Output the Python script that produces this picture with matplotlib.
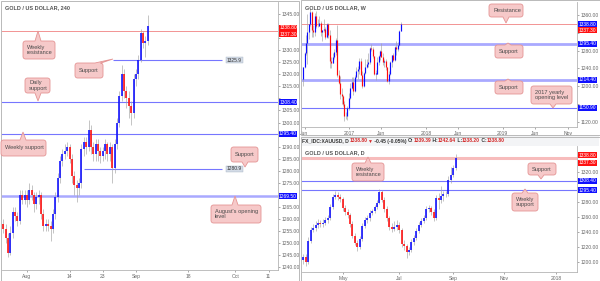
import matplotlib
matplotlib.use('Agg')
import matplotlib.pyplot as plt
from matplotlib.patches import Rectangle, Polygon
import numpy as np

plt.rcParams['font.family'] = ['Liberation Sans', 'DejaVu Sans']

# ------------------------------------------------------------------ data
# 4H panel (each candle = half a trading day)
h4_ticklabels = ['Aug', '14', '23', 'Sep', '18', 'Oct', '11']
h4_open0 = 1258
h4_close = [1256, 1252, 1246, 1254, 1263, 1261, 1259, 1270, 1268, 1270,
            1268, 1272, 1270, 1266, 1269, 1270, 1262, 1257, 1258, 1257,
            1256, 1262, 1269, 1277, 1284, 1287, 1288, 1290, 1285, 1278,
            1274, 1273, 1275, 1289, 1292, 1290, 1297, 1290, 1287, 1291,
            1288, 1286, 1288, 1291, 1287, 1290, 1281, 1291, 1300, 1311,
            1320, 1313, 1310, 1307, 1304, 1318, 1320, 1326, 1337, 1333,
            1334, 1340]
h4_high = [1260, 1258, 1254, 1257, 1265, 1265, 1263, 1272, 1272, 1272,
           1272, 1275, 1274, 1271, 1271, 1272, 1271, 1264, 1260, 1260,
           1259, 1264, 1271, 1279, 1286, 1289, 1291, 1292, 1291, 1287,
           1280, 1276, 1277, 1291, 1294, 1294, 1301, 1299, 1292, 1293,
           1293, 1290, 1290, 1293, 1292, 1292, 1291, 1293, 1302, 1313,
           1324, 1322, 1315, 1313, 1309, 1320, 1322, 1328, 1339, 1338,
           1336, 1344.6]
h4_low = [1254, 1250, 1244, 1245, 1252, 1259, 1257, 1258, 1266, 1266,
          1265, 1266, 1268, 1263, 1264, 1266, 1260, 1255, 1255, 1255,
          1251, 1254, 1260, 1267, 1275, 1282, 1285, 1286, 1283, 1275,
          1270, 1267, 1270, 1273, 1286, 1287, 1288, 1287, 1284, 1284,
          1284, 1283, 1284, 1285, 1284, 1284, 1275, 1279, 1289, 1298,
          1309, 1310, 1306, 1302, 1299, 1302, 1315, 1318, 1325, 1331,
          1327, 1332]
h4_yticks = list(range(1240, 1350, 5))

# Weekly panel
wk_ticklabels = ['Jun', '2017', 'Jun', '2018', 'Jun', '2019', 'Jun', 'Nov']
wk_open0 = 1216
wk_close = [1243, 1275, 1298, 1322, 1339, 1366, 1327, 1322, 1357, 1335,
            1336, 1341, 1321, 1326, 1328, 1310, 1339, 1315, 1257, 1251,
            1266, 1276, 1304, 1224, 1206, 1183, 1177, 1160, 1133, 1133,
            1151, 1173, 1196, 1209, 1190, 1220, 1234, 1239, 1256, 1226,
            1201, 1229, 1244, 1249, 1254, 1285, 1284, 1268, 1228, 1228,
            1254, 1267, 1279, 1266, 1254, 1256, 1242, 1212, 1228, 1255,
            1269, 1258, 1288, 1284, 1292, 1325, 1339]
wk_high = [1244, 1277, 1315, 1362, 1340, 1375, 1368, 1338, 1365, 1368,
           1352, 1358, 1346, 1327, 1352, 1333, 1343, 1341, 1326, 1265,
           1274, 1284, 1308, 1338, 1237, 1222, 1195, 1180, 1167, 1141,
           1155, 1184, 1207, 1220, 1220, 1226, 1244, 1245, 1264, 1263,
           1234, 1231, 1260, 1260, 1274, 1289, 1295, 1288, 1268, 1236,
           1265, 1270, 1281, 1296, 1275, 1260, 1260, 1242, 1233, 1257,
           1271, 1274, 1291, 1301, 1300, 1326, 1344]
wk_low = [1200, 1240, 1270, 1250, 1307, 1336, 1310, 1310, 1312, 1331,
          1332, 1335, 1312, 1301, 1322, 1305, 1308, 1308, 1241, 1241,
          1251, 1260, 1271, 1220, 1204, 1171, 1160, 1156, 1122, 1125,
          1123, 1147, 1172, 1193, 1180, 1186, 1218, 1216, 1227, 1224,
          1195, 1198, 1228, 1241, 1244, 1250, 1278, 1263, 1226, 1214,
          1228, 1247, 1259, 1266, 1248, 1242, 1236, 1210, 1205, 1225,
          1242, 1257, 1256, 1270, 1280, 1291, 1324]
wk_yticks = list(range(1120, 1400, 40))

# Daily panel (each candle = two trading days)
d_ticklabels = ['May', 'Jul', 'Sep', 'Nov', '2018']
d_open0 = 1203
d_close = [1207, 1200, 1228, 1243, 1245, 1249, 1252, 1250, 1252, 1256,
           1258, 1273, 1287, 1289, 1287, 1284, 1272, 1266, 1262, 1250,
           1235, 1225, 1220, 1230, 1248, 1256, 1258, 1265, 1268, 1273,
           1279, 1293, 1283, 1270, 1258, 1247, 1244, 1246, 1249, 1242,
           1224, 1221, 1213, 1216, 1226, 1232, 1241, 1249, 1255, 1259,
           1270, 1272, 1266, 1258, 1285, 1282, 1288, 1291, 1290, 1309,
           1316, 1325, 1339]
d_high = [1211, 1210, 1233, 1247, 1250, 1254, 1257, 1256, 1257, 1260,
          1262, 1277, 1290, 1295, 1293, 1291, 1287, 1276, 1270, 1265,
          1254, 1238, 1229, 1234, 1252, 1260, 1263, 1269, 1271, 1276,
          1283, 1297, 1296, 1286, 1274, 1261, 1252, 1254, 1256, 1253,
          1245, 1229, 1224, 1220, 1230, 1236, 1245, 1253, 1258, 1263,
          1274, 1276, 1275, 1270, 1289, 1292, 1301, 1295, 1295, 1314,
          1326, 1329, 1343]
d_low = [1198, 1195, 1198, 1225, 1240, 1241, 1245, 1246, 1246, 1249,
         1252, 1256, 1271, 1284, 1283, 1280, 1268, 1262, 1259, 1247,
         1232, 1222, 1214, 1217, 1228, 1245, 1252, 1255, 1262, 1265,
         1270, 1277, 1280, 1266, 1254, 1243, 1240, 1241, 1242, 1238,
         1220, 1216, 1205, 1209, 1213, 1223, 1229, 1238, 1246, 1252,
         1256, 1266, 1262, 1254, 1256, 1270, 1279, 1281, 1287, 1288,
         1305, 1313, 1323]
d_yticks = list(range(1200, 1360, 20))

header_parts = [('FX_IDC:XAUUSD, D ', '#333333'), ('1338.80', '#d42a2a'),
                ('\u25bc', '#d42a2a'), (' -0.45 (-0.05%) ', '#333333'),
                ('O:', '#333333'), ('1339.39', '#d42a2a'), (' H:', '#333333'),
                ('1342.64', '#d42a2a'), (' L:', '#333333'), ('1338.20', '#d42a2a'),
                (' C:', '#333333'), ('1338.80', '#d42a2a')]

# ------------------------------------------------------------------ figure
W, H = 600, 281
fig = plt.figure(figsize=(6, 2.81), dpi=100)
fig.patch.set_facecolor('white')

UP, DOWN, WICK = '#0b0bff', '#ff0b0b', '#a3a3a3'
BLUE_LINE, LIGHT_BLUE, RED_LINE = '#7676ff', '#a9a9ff', '#f29393'
CALL_FC, CALL_EC, CALL_TXT = '#f6c9c9', '#e49494', '#4a4a4a'

badge_pos = {}


def fx(x):
    return x / W


def fy(y):
    return 1 - y / H


def add_ax(x0, y0, x1, y1):
    return fig.add_axes([fx(x0), fy(y1), (x1 - x0) / W, (y1 - y0) / H])


def opens(o0, closes):
    return [o0] + list(closes[:-1])


def candles(ax, o, h, l, c, body_lw, wick_lw, mind):
    o, h, l, c = map(np.asarray, (o, h, l, c))
    x = np.arange(len(c))
    up = c >= o
    ax.vlines(x, l, h, color=WICK, lw=wick_lw, zorder=2)
    lo = np.minimum(o, c)
    hi = np.maximum(o, c)
    hi = np.where(hi - lo < mind, lo + mind, hi)
    ax.vlines(x[up], lo[up], hi[up], color=UP, lw=body_lw, zorder=3)
    ax.vlines(x[~up], lo[~up], hi[~up], color=DOWN, lw=body_lw, zorder=3)


def style_ax(ax, xlim, ylim, xticks, xlabels, yticks):
    ax.set_xlim(*xlim)
    ax.set_ylim(*ylim)
    ax.set_xticks(xticks)
    ax.set_xticklabels(xlabels)
    ax.set_yticks(yticks)
    ax.yaxis.tick_right()
    ax.tick_params(axis='both', labelsize=3.6, colors='#666666', length=1.6,
                   width=0.4, pad=1.0)
    for s in ['top', 'left']:
        ax.spines[s].set_visible(False)
    for s in ['right', 'bottom']:
        ax.spines[s].set_color('#b4b4b4')
        ax.spines[s].set_linewidth(0.6)


def py(ax, v):
    return H - ax.transData.transform((0, v))[1]


def badge(ax, v, text, fc, x0, x1, dy=0.0):
    y = py(ax, v) + dy
    badge_pos.setdefault(id(ax), []).append(y)
    fig.add_artist(Rectangle((fx(x0), fy(y + 3)), (x1 - x0) / W, 6 / H,
                             transform=fig.transFigure, fc=fc, ec='none', zorder=10))
    fig.text(fx((x0 + x1) / 2), fy(y), text, color='white', fontsize=3.5,
             ha='center', va='center', zorder=11)


def finish_yticks(ax, yticks):
    bys = badge_pos.get(id(ax), [])
    labels = []
    for t in yticks:
        yt = py(ax, t)
        near = any(abs(yt - b) < 5.8 for b in bys)
        labels.append('' if near else f'{t:.2f}')
    ax.set_yticklabels(labels)


def level_tag(ax, v, text, x0, x1):
    y = py(ax, v)
    fig.add_artist(Rectangle((fx(x0), fy(y + 3)), (x1 - x0) / W, 6 / H,
                             transform=fig.transFigure, fc='#d3dbe6', ec='#a7b3c4',
                             lw=0.3, zorder=10))
    fig.text(fx((x0 + x1) / 2), fy(y), text, color='#333333', fontsize=3.5,
             ha='center', va='center', zorder=11)


def callout(x0, y0, x1, y1, text, side, b0, b1, tip, r=2.5):
    pts = []

    def arc(cx, cy, a0, a1):
        for a in np.linspace(np.radians(a0), np.radians(a1), 6):
            pts.append((cx + r * np.cos(a), cy + r * np.sin(a)))

    pts.append((x0 + r, y0))
    if side == 'top':
        pts += [(b0, y0), tip, (b1, y0)]
    arc(x1 - r, y0 + r, -90, 0)
    if side == 'right':
        pts += [(x1, b0), tip, (x1, b1)]
    arc(x1 - r, y1 - r, 0, 90)
    if side == 'bottom':
        pts += [(b1, y1), tip, (b0, y1)]
    arc(x0 + r, y1 - r, 90, 180)
    arc(x0 + r, y0 + r, 180, 270)
    fpts = [(fx(a), fy(b)) for a, b in pts]
    fig.add_artist(Polygon(fpts, closed=True, transform=fig.transFigure,
                           fc=CALL_FC, ec=CALL_EC, lw=0.6, zorder=8))
    fig.text(fx(x0 + 4), fy((y0 + y1) / 2), text, color=CALL_TXT, fontsize=4.1,
             ha='left', va='center', linespacing=1.05, zorder=9)


# panel borders
for (a, b, c, d) in [(0.5, 0.5, 298.5, 280.5), (300.5, 0.5, 599.5, 135.5),
                     (300.5, 136.5, 599.5, 280.5)]:
    fig.add_artist(Rectangle((fx(a), fy(d)), (c - a) / W, (d - b) / H,
                             transform=fig.transFigure, fc='none', ec='#b9b9b9',
                             lw=0.7, zorder=1))

# ------------------------------------------------------------------ 4H panel
axA = add_ax(2, 2, 278, 270)
candles(axA, opens(h4_open0, h4_close), h4_high, h4_low, h4_close, 1.15, 0.45, 0.4)
style_ax(axA, (-0.5, -0.5 + 276 / 2.37), (1238.8, 1350.0),
         [10, 28, 42, 56, 78, 98, 112], h4_ticklabels, h4_yticks)
axA.axhline(1338.0, color=RED_LINE, lw=0.7, zorder=1)
axA.axhline(1308.4, color=BLUE_LINE, lw=0.8, zorder=1)
axA.axhline(1295.4, color=BLUE_LINE, lw=0.8, zorder=1)
axA.axhline(1269.5, color=LIGHT_BLUE, lw=1.8, zorder=1)
axA.hlines(1325.9, 46.3, 92.3, color=BLUE_LINE, lw=0.8, zorder=1)
axA.hlines(1280.9, 34.1, 92.3, color=BLUE_LINE, lw=0.8, zorder=1)
fig.text(fx(5), fy(8), 'GOLD / US DOLLAR, 240', fontsize=4.0, color='#555555',
         weight='bold', ha='left', va='center')

# ------------------------------------------------------------------ weekly panel
axB = add_ax(302, 2, 577, 127)
candles(axB, opens(wk_open0, wk_close), wk_high, wk_low, wk_close, 0.85, 0.45, 0.8)
style_ax(axB, (-0.7, -0.7 + 275 / 1.48), (1108.1, 1389.2),
         [1, 31, 53, 83, 105, 135, 157, 179], wk_ticklabels, wk_yticks)
axB.axhline(1338.8, color=RED_LINE, lw=0.7, zorder=1)
axB.axhline(1295.4, color=LIGHT_BLUE, lw=2.0, zorder=1)
axB.axhline(1214.4, color=LIGHT_BLUE, lw=2.0, zorder=1)
axB.axhline(1150.9, color=BLUE_LINE, lw=0.8, zorder=1)
fig.text(fx(305), fy(7.5), 'GOLD / US DOLLAR, W', fontsize=4.0, color='#555555',
         weight='bold', ha='left', va='center')

# ------------------------------------------------------------------ daily panel
axC = add_ax(302, 146, 577, 272)
candles(axC, opens(d_open0, d_close), d_high, d_low, d_close, 1.15, 0.45, 0.6)
style_ax(axC, (-0.5, -0.5 + 275 / 2.46), (1186.7, 1354.3),
         [16.2, 38.9, 60.9, 81.6, 102.8], d_ticklabels, d_yticks)
axC.axhline(1338.0, color='#f7bcbc', lw=2.2, zorder=1)
axC.axhline(1308.4, color=BLUE_LINE, lw=0.8, zorder=1)
axC.axhline(1295.4, color=BLUE_LINE, lw=0.8, zorder=1)
fig.text(fx(305), fy(153), 'GOLD / US DOLLAR, D', fontsize=4.0, color='#555555',
         weight='bold', ha='left', va='center')

# header strip of daily panel
fig.add_artist(Rectangle((fx(301), fy(146)), 298 / W, 10 / H, transform=fig.transFigure,
                         fc='#f3f4f6', ec='none', zorder=0.5))
renderer = fig.canvas.get_renderer()
xcur = 302
for s, col in header_parts:
    t = fig.text(fx(xcur), fy(141), s, color=col, fontsize=3.6, ha='left',
                 va='center', weight='bold')
    xcur += t.get_window_extent(renderer).width

# ------------------------------------------------------------------ badges
badge(axA, 1338.8, '1338.80', '#ff1010', 279, 297, -1.0)
badge(axA, 1337.3, '1337.30', '#ff1010', 279, 297, 1.5)
badge(axA, 1308.4, '1308.40', '#1010ff', 279, 297)
badge(axA, 1295.4, '1295.40', '#1010ff', 279, 297)
badge(axA, 1269.5, '1269.50', '#1010ff', 279, 297)
level_tag(axA, 1325.9, '1325.9', 226, 243)
level_tag(axA, 1280.9, '1280.9', 226, 243)

badge(axB, 1338.8, '1338.80', '#1010ff', 578, 597, -0.4)
badge(axB, 1337.3, '1337.30', '#ff1010', 578, 597, 5.0)
badge(axB, 1295.4, '1295.40', '#1010ff', 578, 597)
badge(axB, 1214.4, '1214.40', '#1010ff', 578, 597)
badge(axB, 1150.9, '1150.90', '#1010ff', 578, 597)

badge(axC, 1338.8, '1338.80', '#ff1010', 578, 597, -2.2)
badge(axC, 1337.3, '1337.30', '#ff1010', 578, 597, 4.2)
badge(axC, 1308.4, '1308.40', '#1010ff', 578, 597)
badge(axC, 1295.4, '1295.40', '#1010ff', 578, 597)

finish_yticks(axA, h4_yticks)
finish_yticks(axB, wk_yticks)
finish_yticks(axC, d_yticks)

# ------------------------------------------------------------------ callouts
callout(23, 41, 55, 59, 'Weekly\nresistance', 'top', 35, 41, (38, 31))
callout(75, 63, 103, 78, 'Support', 'top', 95, 101, (113, 59))
callout(25, 78, 50, 93, 'Daily\nsupport', 'bottom', 35, 41, (38, 101))
callout(1, 140, 46, 156, 'Weekly support', 'top', 20, 26, (23, 132))
callout(231, 147, 258, 162, 'Support', 'bottom', 242, 248, (245, 167))
callout(211, 205, 261, 223, "August's opening\nlevel", 'top', 232, 238, (235, 196))

callout(489, 4, 523, 17, 'Resistance', 'bottom', 503, 509, (506, 23))
callout(495, 45, 523, 58, 'Support', 'top', 505, 511, (508, 43))
callout(495, 81, 523, 94, 'Support', 'top', 505, 511, (508, 79))
callout(531, 86, 572, 104, '2017 yearly\nopening level', 'bottom', 550, 556, (553, 108))

callout(352, 163, 384, 181, 'Weekly\nresistance', 'top', 365, 371, (368, 157))
callout(528, 163, 556, 175, 'Support', 'bottom', 538, 544, (541, 179))
callout(512, 193, 538, 211, 'Weekly\nsupport', 'top', 522, 528, (525, 189))

fig.savefig('out.png', dpi=100)
